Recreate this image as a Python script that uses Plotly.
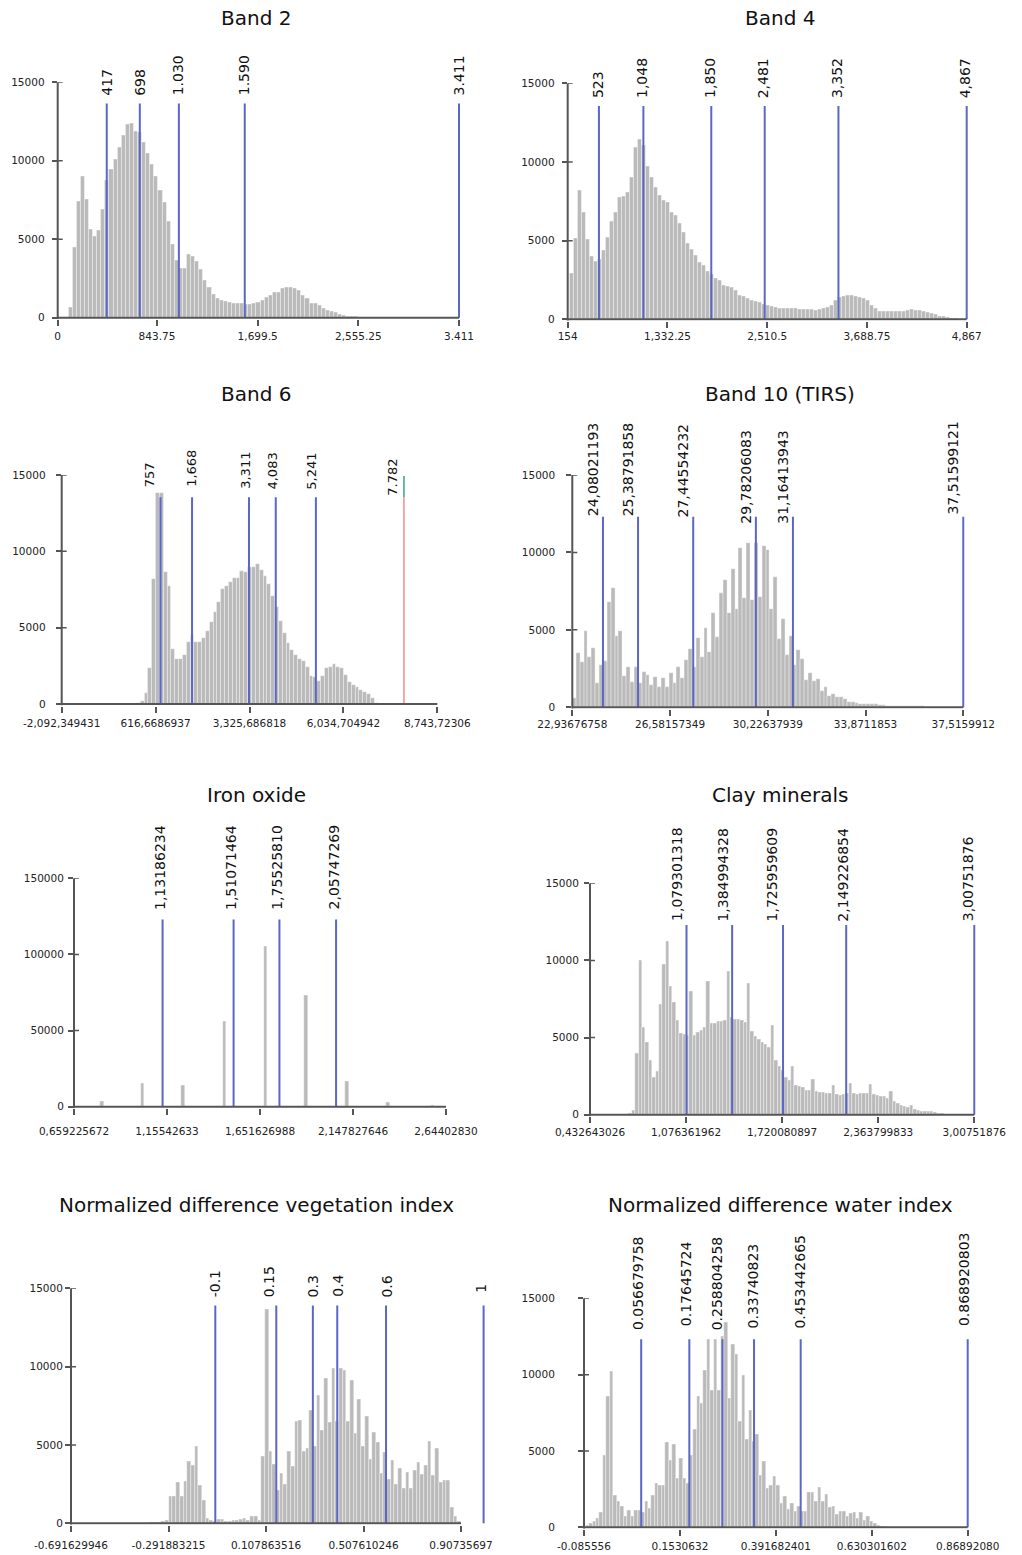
import plotly.graph_objects as go

FIG_W, FIG_H = 1022, 1555
FONT = "DejaVu Sans"

# ======================= DATA =======================
y_ticks_15k = [0, 5000, 10000, 15000]
y_ticks_15k_text = ["0", "5000", "10000", "15000"]
y_ticks_150k = [0, 50000, 100000, 150000]
y_ticks_150k_text = ["0", "50000", "100000", "150000"]

# ---- Band 2 ----
band2_bin_start = 90.4
band2_bin_width = 34.7
band2_counts = [660, 4460, 7390, 8990, 7540, 5630, 5200, 5570, 6930, 8730,
                9450, 10110, 10860, 11620, 12320, 12390, 11900, 11800, 11150, 10470,
                9770, 8990, 8140, 7330, 6160, 4700, 3680, 3140, 3140, 4040,
                3890, 3570, 3080, 2400, 1930, 1510, 1250, 1130, 1060, 1000,
                910, 910, 890, 850, 850, 930, 980, 1130, 1270, 1400,
                1610, 1610, 1870, 1950, 1950, 1870, 1760, 1420, 1210, 910,
                890, 760, 590, 490, 380, 320, 230, 170, 110, 80,
                60, 50, 40, 30, 30, 50, 20]
band2_breaks = [417, 698, 1030, 1590, 3411]
band2_break_labels = ["417", "698", "1.030", "1.590", "3.411"]
band2_xticks = [0, 843.75, 1699.5, 2555.25, 3411]
band2_xtick_labels = ["0", "843.75", "1,699.5", "2,555.25", "3.411"]

# ---- Band 4 ----
band4_bin_start = 181.6
band4_bin_width = 47.25
band4_counts = [2920, 5150, 8220, 6780, 5080, 3980, 3670, 3820, 4410, 5210,
                6250, 6780, 7750, 7800, 8050, 9030, 10930, 11460, 11080, 9750,
                9030, 8370, 7880, 7540, 7420, 6800, 6630, 6100, 5510, 4830,
                4470, 4090, 3600, 3450, 3070, 2860, 2610, 2500, 2180, 2120,
                2010, 1860, 1550, 1440, 1330, 1230, 1120, 1060, 970, 870,
                800, 740, 700, 700, 680, 700, 720, 660, 640, 620,
                640, 600, 650, 700, 760, 910, 1230, 1400, 1440, 1550,
                1550, 1480, 1400, 1330, 1190, 910, 700, 490, 490, 490,
                490, 490, 490, 530, 590, 620, 590, 560, 530, 450,
                400, 300, 200, 180, 130, 80, 50, 30, 20]
band4_breaks = [523, 1048, 1850, 2481, 3352, 4867]
band4_break_labels = ["523", "1,048", "1,850", "2,481", "3,352", "4,867"]
band4_xticks = [154, 1332.25, 2510.5, 3688.75, 4867]
band4_xtick_labels = ["154", "1,332.25", "2,510.5", "3,688.75", "4,867"]

# ---- Band 6 ----
band6_bin_start = 71.0
band6_bin_width = 110.6
band6_counts = [90, 220, 700, 2340, 8170, 13800, 13800, 8670, 7750, 3600,
                2950, 2950, 3200, 4040, 4520, 4080, 4080, 4300, 4800, 5390,
                6050, 6700, 7530, 7730, 7970, 8230, 8230, 8730, 8670, 9000,
                9000, 9150, 8780, 8410, 7860, 7070, 6380, 5460, 4630, 4020,
                3540, 3210, 2930, 2840, 2450, 1830, 1790, 1530, 1830, 2340,
                2400, 2620, 2450, 2340, 1900, 1460, 1240, 1090, 920, 810,
                650, 370, 90]
band6_breaks = [757, 1668, 3311, 4083, 5241, 7782]
band6_break_labels = ["757", "1,668", "3,311", "4,083", "5,241", "7.782"]
band6_cap_top = 14934
band6_xticks = [-2092.349431, 616.6686937, 3325.686818, 6034.704942, 8743.72306]
band6_xtick_labels = ["-2,092,349431", "616,6686937", "3,325,686818",
                      "6,034,704942", "8,743,72306"]

# ---- Band 10 (TIRS) ----
band10_bin_start = 22.93677
band10_bin_width = 0.1443
band10_counts = [620, 3490, 2900, 4950, 3270, 3850, 1550, 2730, 3010, 6820,
                 7680, 4600, 4950, 2020, 2580, 1660, 2580, 1550, 2300, 2090,
                 1440, 1980, 1290, 1920, 1330, 2240, 1550, 2580, 1920, 3060,
                 3740, 2580, 4450, 3270, 5100, 3590, 6070, 4560, 7360, 8220,
                 6070, 8910, 6370, 10260, 7040, 10590, 6930, 10590, 7140, 10420,
                 10160, 6330, 8440, 4410, 5680, 3380, 4600, 2710, 3700, 3120,
                 1760, 2240, 1720, 1810, 1050, 1330, 750, 840, 690, 690,
                 520, 320, 370, 260, 210, 210, 240, 190, 210, 150,
                 120, 100, 100, 90, 90, 80, 80, 80, 80, 80,
                 70, 50]
band10_breaks = [24.08021193, 25.38791858, 27.44554232, 29.78206083, 31.16413943, 37.51599121]
band10_break_labels = ["24,08021193", "25,38791858", "27,44554232",
                       "29,78206083", "31,16413943", "37,51599121"]
band10_xticks = [22.93676758, 26.58157349, 30.22637939, 33.8711853, 37.5159912]
band10_xtick_labels = ["22,93676758", "26,58157349", "30,22637939", "33,8711853", "37,5159912"]

# ---- Iron oxide ----
iron_bar_x = [0.8086, 1.0236, 1.2408, 1.4633, 1.6799, 1.8970, 2.1158, 2.3345, 2.5731]
iron_counts = [3300, 15300, 13800, 55800, 105500, 72900, 16400, 2600, 900]
iron_bar_width = 0.018
iron_breaks = [1.13186234, 1.51071464, 1.75525810, 2.05747269]
iron_break_labels = ["1,13186234", "1,51071464", "1,75525810", "2,05747269"]
iron_xticks = [0.659225672, 1.15542633, 1.651626988, 2.147827646, 2.64402830]
iron_xtick_labels = ["0,659225672", "1,15542633", "1,651626988", "2,147827646", "2,64402830"]

# ---- Clay minerals ----
clay_bin_start = 0.66713
clay_bin_width = 0.022712
clay_counts = [50, 80, 260, 3970, 10000, 5660, 4670, 3500, 2420, 2790,
               7170, 9740, 11270, 8340, 7260, 6130, 5270, 5200, 5160, 8030,
               5160, 5310, 5490, 5640, 8640, 5920, 5920, 6030, 6070, 6100,
               9310, 6290, 6180, 6180, 6130, 5960, 8550, 5380, 5100, 4880,
               4670, 4580, 4370, 5810, 3500, 3110, 2850, 2420, 2200, 3160,
               1920, 1820, 1770, 1600, 1600, 2290, 1490, 1430, 1430, 1380,
               1380, 1920, 1340, 1230, 1320, 1380, 2030, 1380, 1340, 1380,
               1380, 1380, 1970, 1340, 1280, 1170, 1170, 1060, 1490, 840,
               730, 630, 520, 450, 630, 350, 260, 220, 220, 220,
               240, 130, 90, 60, 40, 40, 40, 30, 30, 20]
clay_breaks = [1.079301318, 1.384994328, 1.725959609, 2.149226854, 3.00751876]
clay_break_labels = ["1,079301318", "1,384994328", "1,725959609", "2,149226854", "3,00751876"]
clay_xticks = [0.432643026, 1.076361962, 1.720080897, 2.363799833, 3.00751876]
clay_xtick_labels = ["0,432643026", "1,076361962", "1,720080897", "2,363799833", "3,00751876"]

# ---- NDVI ----
ndvi_bin_start = -0.39717
ndvi_bin_width = 0.01517
ndvi_counts = [30, 30, 40, 40, 40, 130, 210, 1700, 1700, 2600,
               1700, 2660, 3980, 3680, 4890, 2450, 1490, 300, 210, 100,
               255, 255, 150, 150, 210, 210, 255, 320, 210, 425,
               425, 210, 4300, 13680, 4620, 3790, 2130, 3190, 2510, 4620,
               3620, 6490, 6600, 4620, 4790, 7230, 4940, 8190, 5960, 9230,
               6450, 9870, 6490, 9910, 9790, 6510, 9100, 5740, 7910, 4890,
               6810, 4090, 5830, 5150, 3190, 4510, 2830, 4040, 2510, 3510,
               2230, 3230, 2230, 3360, 3890, 3150, 3720, 5210, 3090, 4790,
               2600, 2770, 2770, 1020, 430, 100]
ndvi_breaks = [-0.1, 0.15, 0.3, 0.4, 0.6, 1]
ndvi_break_labels = ["-0.1", "0.15", "0.3", "0.4", "0.6", "1"]
ndvi_xticks = [-0.691629946, -0.291883215, 0.107863516, 0.507610246, 0.90735697]
ndvi_xtick_labels = ["-0.691629946", "-0.291883215", "0.107863516", "0.507610246", "0.90735697"]

# ---- NDWI ----
ndwi_bin_start = -0.08158
ndwi_bin_width = 0.0086243
ndwi_counts = [150, 260, 400, 590, 960, 4740, 8600, 10200, 2120, 1680,
               1350, 740, 1090, 740, 1090, 1100, 960, 1680, 1240, 2120,
               2880, 2770, 2770, 5550, 4370, 5460, 3210, 4500, 3200, 2900,
               4740, 6400, 8560, 8120, 10300, 12300, 9000, 12300, 9000, 12500,
               13400, 8450, 12000, 11330, 6920, 9980, 5760, 7640, 5610, 6100,
               3380, 4350, 2550, 2770, 3320, 2770, 1570, 2050, 1180, 1570,
               1030, 1400, 1070, 1070, 2270, 2270, 1680, 2620, 1680, 2180,
               1310, 1400, 850, 1070, 1070, 700, 920, 960, 590, 960,
               440, 740, 370, 260, 120, 50, 40]
ndwi_breaks = [0.056679758, 0.17645724, 0.258804258, 0.33740823, 0.453442665, 0.868920803]
ndwi_break_labels = ["0.056679758", "0.17645724", "0.258804258", "0.33740823",
                     "0.453442665", "0.868920803"]
ndwi_xticks = [-0.085556, 0.1530632, 0.391682401, 0.630301602, 0.86892080]
ndwi_xtick_labels = ["-0.085556", "0.1530632", "0.391682401", "0.630301602", "0.86892080"]

# ======================= STYLE =======================
BAR_COLOR = "#bababa"
AXIS_COLOR = "#555555"
LINE_BLUE = "#5b67c6"
LINE_RED = "#f28b8b"
CAP_TEAL = "#3a9e96"
TEXT = "#111111"
PAD_PX = 1.5     # extra room so edge lines are not clipped
TICK_IN_PX = 5   # inward half of the crossing y ticks


def centers(start, width, counts):
    return [start + width * (i + 0.5) for i in range(len(counts))]


panels = [
    dict(title="Band 2", bx=centers(band2_bin_start, band2_bin_width, band2_counts),
         by=band2_counts, bw=band2_bin_width, breaks=band2_breaks, labels=band2_break_labels,
         xt=band2_xticks, xtl=band2_xtick_labels, yt=y_ticks_15k, ytl=y_ticks_15k_text,
         top=13650, px=(57.7, 459.0), py=(317.7, 82.3), tpos=(256, 18),
         gap=[7, 7, 7, 7, 7], dx=[0, 0, 0, 0, 0], lsize=14, xs=1, ys=5),
    dict(title="Band 4", bx=centers(band4_bin_start, band4_bin_width, band4_counts),
         by=band4_counts, bw=band4_bin_width, breaks=band4_breaks, labels=band4_break_labels,
         xt=band4_xticks, xtl=band4_xtick_labels, yt=y_ticks_15k, ytl=y_ticks_15k_text,
         top=13550, px=(567.7, 966.7), py=(319.3, 83.3), tpos=(780, 18),
         gap=[7] * 6, dx=[-1.5] * 6, lsize=14, xs=0, ys=5),
    dict(title="Band 6", bx=centers(band6_bin_start, band6_bin_width, band6_counts),
         by=band6_counts, bw=band6_bin_width, breaks=band6_breaks, labels=band6_break_labels,
         xt=band6_xticks, xtl=band6_xtick_labels, yt=y_ticks_15k, ytl=y_ticks_15k_text,
         top=13540, px=(61.7, 437.3), py=(704.0, 475.0), tpos=(256, 394),
         gap=[9, 9, 8, 7, 7, 1], dx=[-11, 0, -3, -3, -4, -11], lsize=13, xs=2, ys=8,
         red_last=True, cap=band6_cap_top),
    dict(title="Band 10 (TIRS)", bx=centers(band10_bin_start, band10_bin_width, band10_counts),
         by=band10_counts, bw=band10_bin_width, breaks=band10_breaks, labels=band10_break_labels,
         xt=band10_xticks, xtl=band10_xtick_labels, yt=y_ticks_15k, ytl=y_ticks_15k_text,
         top=12300, px=(572.3, 963.3), py=(707.3, 475.0), tpos=(780, 394),
         gap=[-0.5, -0.5, -1.5, -8, -8, 1.5], dx=[-10] * 6, lsize=14, xs=0, ys=9),
    dict(title="Iron oxide", bx=iron_bar_x, by=iron_counts, bw=iron_bar_width,
         breaks=iron_breaks, labels=iron_break_labels,
         xt=iron_xticks, xtl=iron_xtick_labels, yt=y_ticks_150k, ytl=y_ticks_150k_text,
         top=123000, px=(74.0, 446.0), py=(1106.7, 878.3), tpos=(256, 795),
         gap=[8.5] * 4, dx=[-2] * 4, lsize=14, xs=7, ys=2),
    dict(title="Clay minerals", bx=centers(clay_bin_start, clay_bin_width, clay_counts),
         by=clay_counts, bw=clay_bin_width, breaks=clay_breaks, labels=clay_break_labels,
         xt=clay_xticks, xtl=clay_xtick_labels, yt=y_ticks_15k, ytl=y_ticks_15k_text,
         top=12300, px=(590.0, 974.3), py=(1114.7, 883.3), tpos=(780, 795),
         gap=[2.5] * 5, dx=[-9, -9, -11, -3, -6], lsize=14, xs=0, ys=3),
    dict(title="Normalized difference vegetation index",
         bx=centers(ndvi_bin_start, ndvi_bin_width, ndvi_counts),
         by=ndvi_counts, bw=ndvi_bin_width, breaks=ndvi_breaks, labels=ndvi_break_labels,
         xt=ndvi_xticks, xtl=ndvi_xtick_labels, yt=y_ticks_15k, ytl=y_ticks_15k_text,
         top=13900, px=(71.0, 461.0), py=(1523.3, 1288.3), tpos=(256, 1205),
         gap=[7, 7, 7, 8, 7, 12], dx=[0, -7, 0, 0, 1, -3], lsize=14, xs=5, ys=0,
         xmax=1.03),
    dict(title="Normalized difference water index",
         bx=centers(ndwi_bin_start, ndwi_bin_width, ndwi_counts),
         by=ndwi_counts, bw=ndwi_bin_width, breaks=ndwi_breaks, labels=ndwi_break_labels,
         xt=ndwi_xticks, xtl=ndwi_xtick_labels, yt=y_ticks_15k, ytl=y_ticks_15k_text,
         top=12310, px=(584.0, 967.7), py=(1527.3, 1298.3), tpos=(780, 1205),
         gap=[8.5, 12, 8.5, 9.5, 9.5, 12], dx=[-3, -3, -6, -1, -1, -3], lsize=14, xs=2, ys=21),
]

fig = go.Figure()
layout = dict(width=FIG_W, height=FIG_H,
              margin=dict(l=0, r=0, t=0, b=0, pad=0, autoexpand=False),
              paper_bgcolor="white", plot_bgcolor="white", showlegend=False,
              bargap=0, annotations=[], shapes=[])

for n, p in enumerate(panels, start=1):
    xa = "x" if n == 1 else f"x{n}"
    ya = "y" if n == 1 else f"y{n}"
    xkey = "xaxis" if n == 1 else f"xaxis{n}"
    ykey = "yaxis" if n == 1 else f"yaxis{n}"

    # x scale (pixels per data unit) from the first/last tick positions
    x_first, x_last = p["xt"][0], p["xt"][-1]
    xl, xr_tick = p["px"]
    ppu_x = (xr_tick - xl) / (x_last - x_first)
    xmax = p.get("xmax", x_last + PAD_PX / ppu_x)
    xr = xl + (xmax - x_first) * ppu_x

    # y scale, with a little room below zero so the baseline is not clipped
    yb, yt = p["py"]
    y_top = p["yt"][-1]
    ppu_y = (yb - yt) / y_top
    ymin = -PAD_PX / ppu_y
    yb_ext = yb + PAD_PX

    layout[xkey] = dict(domain=[xl / FIG_W, xr / FIG_W], range=[x_first, xmax], anchor=ya,
                        tickmode="array", tickvals=p["xt"], ticktext=p["xtl"],
                        ticks="outside", ticklen=6, tickwidth=1.5, tickcolor=AXIS_COLOR,
                        showline=False, showgrid=False, zeroline=False, automargin=False,
                        ticklabelstandoff=int(p["xs"]),
                        tickfont=dict(family=FONT, size=10.5, color="#222222"))
    layout[ykey] = dict(domain=[1 - yb_ext / FIG_H, 1 - yt / FIG_H], range=[ymin, y_top],
                        anchor=xa, tickmode="array", tickvals=p["yt"], ticktext=p["ytl"],
                        ticks="outside", ticklen=5, tickwidth=1.5, tickcolor=AXIS_COLOR,
                        showline=False, showgrid=False, zeroline=False, automargin=False,
                        ticklabelstandoff=int(p["ys"]),
                        tickfont=dict(family=FONT, size=10.5, color="#222222"))

    # histogram bars
    fig.add_trace(go.Bar(x=p["bx"], y=p["by"], width=p["bw"], xaxis=xa, yaxis=ya,
                         marker=dict(color=BAR_COLOR,
                                     line=dict(color="rgba(255,255,255,0.75)", width=0.5)),
                         hoverinfo="skip"))

    # class-break lines
    blue_vals = p["breaks"][:-1] if p.get("red_last") else p["breaks"]
    lx, ly = [], []
    for v in blue_vals:
        lx += [v, v, None]
        ly += [0, p["top"], None]
    fig.add_trace(go.Scatter(x=lx, y=ly, mode="lines", xaxis=xa, yaxis=ya,
                             line=dict(color=LINE_BLUE, width=2), cliponaxis=False,
                             hoverinfo="skip"))
    if p.get("red_last"):
        v = p["breaks"][-1]
        fig.add_trace(go.Scatter(x=[v, v], y=[0, p["top"]], mode="lines", xaxis=xa, yaxis=ya,
                                 line=dict(color=LINE_RED, width=1.5), cliponaxis=False,
                                 hoverinfo="skip"))
        fig.add_trace(go.Scatter(x=[v, v], y=[p["top"], p["cap"]], mode="lines", xaxis=xa,
                                 yaxis=ya, line=dict(color=CAP_TEAL, width=1.5),
                                 cliponaxis=False, hoverinfo="skip"))

    # x baseline
    fig.add_trace(go.Scatter(x=[x_first, x_last], y=[0, 0], mode="lines", xaxis=xa, yaxis=ya,
                             line=dict(color=AXIS_COLOR, width=2), cliponaxis=False,
                             hoverinfo="skip"))

    # y axis line
    layout["shapes"].append(dict(
        type="line", xref=f"{xa} domain", yref=ya, x0=0, x1=0, y0=ymin, y1=y_top,
        line=dict(color=AXIS_COLOR, width=2), layer="above"))
    # inward halves of the y ticks (ticks cross the axis in the original)
    frac_in = TICK_IN_PX / (xr - xl)
    for t in p["yt"][1:]:
        layout["shapes"].append(dict(
            type="line", xref=f"{xa} domain", yref=ya, x0=0, x1=frac_in, y0=t, y1=t,
            line=dict(color=AXIS_COLOR, width=1.5), layer="above"))

    # rotated break labels
    for v, lbl, g, d in zip(p["breaks"], p["labels"], p["gap"], p["dx"]):
        layout["annotations"].append(dict(
            x=v, y=p["top"], xref=xa, yref=ya, text=lbl, textangle=-90, showarrow=False,
            xanchor="center", yanchor="bottom", xshift=d, yshift=g, borderpad=0,
            font=dict(family=FONT, size=p["lsize"], color=TEXT)))

    # panel title
    tx, ty = p["tpos"]
    layout["annotations"].append(dict(
        x=tx / FIG_W, y=1 - ty / FIG_H, xref="paper", yref="paper", text=p["title"],
        showarrow=False, xanchor="center", yanchor="middle",
        font=dict(family=FONT, size=20, color=TEXT)))

fig.update_layout(**layout)
fig.write_html("out.html", config={"displayModeBar": False},
               post_script="document.body.style.margin='0px';document.body.style.padding='0px';")
